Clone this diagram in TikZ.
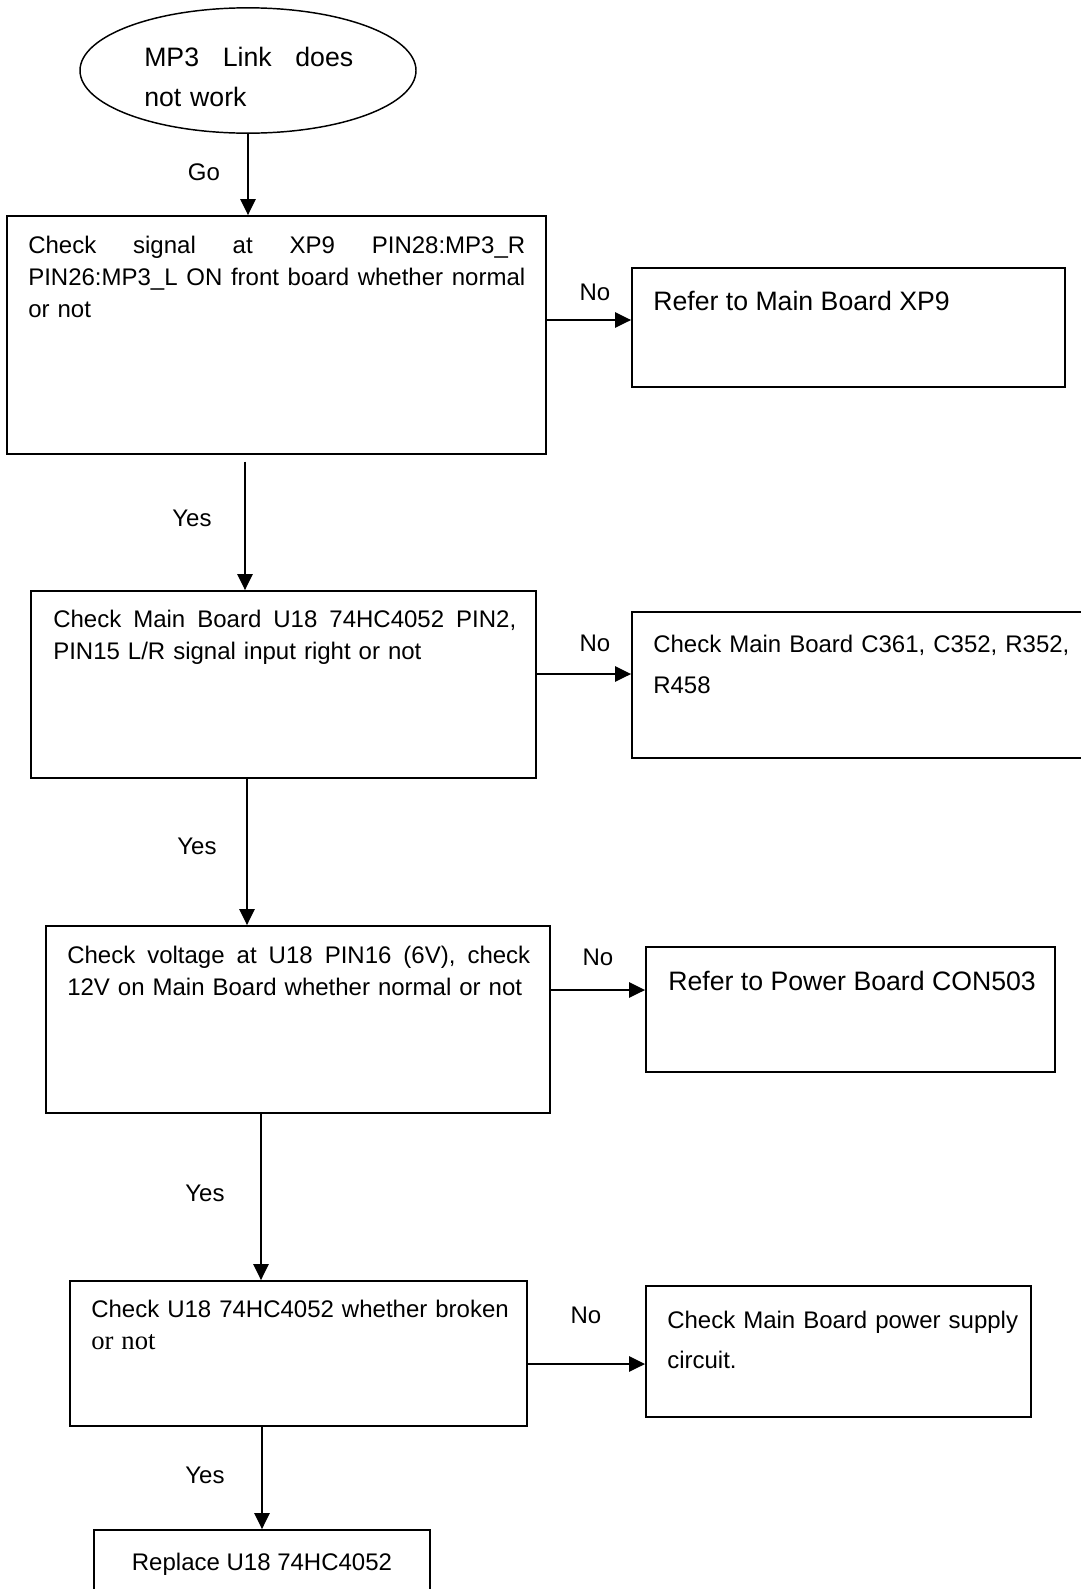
\documentclass[tikz,border=0pt]{standalone}
\usepackage{fontspec}
\setmainfont{Liberation Sans}
\newfontfamily\serifrm{Liberation Serif}
\usetikzlibrary{arrows.meta,shapes.geometric,fit}
\newcommand\jline[1]{\makebox[\linewidth][s]{\spaceskip=.28em plus 1fil\relax #1}}
\begin{document}
\begin{tikzpicture}[x=0.75pt,y=-0.75pt,
  boxn/.style={draw, rectangle, inner sep=0pt, line width=1.4pt},
  txt/.style={anchor=base west, inner sep=0pt, align=left, font=\fontsize{18}{24}\selectfont},
  bigtxt/.style={anchor=base west, inner sep=0pt, align=left, font=\fontsize{20}{30}\selectfont},
  lbl/.style={anchor=base, inner sep=0pt, font=\fontsize{18}{22}\selectfont},
  arr/.style={-{Triangle[length=12pt,width=11.5pt]}, line width=1.1pt},
]
\clip (0,0) rectangle (1081,1589);
% start
\node[draw, ellipse, line width=1.1pt, minimum width=252pt, minimum height=94pt, inner sep=0pt] (e) at (248,70.5) {};
\node[bigtxt, text width=156.75pt] (et) at (144,66) {\jline{MP3 Link does}\\not work};
% boxes
\node[boxn, fit={(7,216) (546,454)}] (b1) {};
\node[txt, text width=372.75pt] (t1) at (28,253.5) {\jline{Check signal at XP9 PIN28:MP3\_R}\\\jline{PIN26:MP3\_L ON front board whether normal}\\or not};
\node[boxn, fit={(632,268) (1065,387)}] (xp9) {};
\node[bigtxt] (txp9) at (653,310) {Refer to Main Board XP9};
\node[boxn, fit={(31,591) (536,778)}] (b2) {};
\node[txt, text width=347.25pt] (t2) at (53,627) {\jline{Check Main Board U18 74HC4052 PIN2,}\\PIN15 L/R signal input right or not};
\node[boxn, fit={(632,612) (1095,758)}] (c361) {};
\node[txt, text width=320pt, font=\fontsize{18}{30.75}\selectfont] (tc361) at (653,652) {Check Main Board C361, C352, R352,\\R458};
\node[boxn, fit={(46,926) (550,1113)}] (b3) {};
\node[txt, text width=347.25pt] (t3) at (67,963) {\jline{Check voltage at U18 PIN16 (6V), check}\\12V on Main Board whether normal or not};
\node[boxn, fit={(646,947) (1055,1072)}] (con) {};
\node[bigtxt] (tcon) at (668,990) {Refer to Power Board CON503};
\node[boxn, fit={(70,1281) (527,1426)}] (b4) {};
\node[txt, text width=330pt] (t4) at (91,1317) {Check U18 74HC4052 whether broken\\{\serifrm\fontsize{20}{24}\selectfont or not}};
\node[boxn, fit={(646,1286) (1031,1417)}] (b5) {};
\node[txt, text width=270pt, font=\fontsize{18}{30}\selectfont] (t5) at (667,1328) {Check Main Board power supply\\circuit.};
\node[boxn, fit={(94,1530) (430,1600)}] (b6) {};
\node[lbl] (t6) at (262,1570) {Replace U18 74HC4052};
% helper coordinates
\coordinate (y1) at (245,0);
\coordinate (y2) at (247,0);
\coordinate (y3) at (261,0);
\coordinate (y4) at (262,0);
\coordinate (n1) at (0,320);
\coordinate (n2) at (0,674);
\coordinate (n3) at (0,990);
\coordinate (n4) at (0,1364);
% connectors
\draw[arr] (e.south) -- (e.south |- b1.north);
\draw[arr, shorten <=5pt] (b1.south -| y1) -- (b2.north -| y1);
\draw[arr] (b2.south -| y2) -- (b3.north -| y2);
\draw[arr] (b3.south -| y3) -- (b4.north -| y3);
\draw[arr] (b4.south -| y4) -- (b6.north -| y4);
\draw[arr] (b1.east |- n1) -- (xp9.west |- n1);
\draw[arr] (b2.east |- n2) -- (c361.west |- n2);
\draw[arr] (b3.east |- n3) -- (con.west |- n3);
\draw[arr] (b4.east |- n4) -- (b5.west |- n4);
% labels
\node[lbl] (go) at (204,180) {Go};
\node[lbl] (no1) at (595,300) {No};
\node[lbl] (yes1) at (192,526) {Yes};
\node[lbl] (no2) at (595,651) {No};
\node[lbl] (yes2) at (197,854) {Yes};
\node[lbl] (no3) at (598,965) {No};
\node[lbl] (yes3) at (205,1201) {Yes};
\node[lbl] (no4) at (586,1323) {No};
\node[lbl] (yes4) at (205,1483) {Yes};
\end{tikzpicture}
\end{document}
